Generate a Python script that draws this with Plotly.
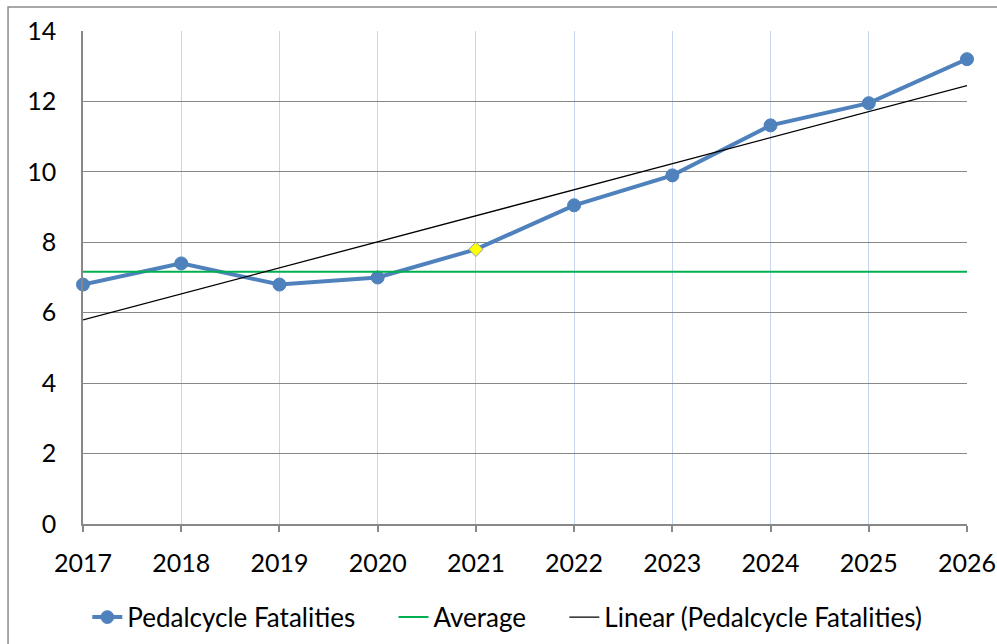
import numpy as np
import plotly.graph_objects as go

# Annual pedalcycle fatalities (2017-2021 observed, 2022-2026 projected)
years = [2017, 2018, 2019, 2020, 2021, 2022, 2023, 2024, 2025, 2026]
fatalities = [6.8, 7.4, 6.8, 7.0, 7.8, 9.05, 9.9, 11.32, 11.95, 13.2]
observed_years = [2017, 2018, 2019, 2020, 2021]
highlight_year = 2021

# Average of the observed years, drawn as a flat reference line
observed_vals = [v for y, v in zip(years, fatalities) if y in observed_years]
average = float(np.mean(observed_vals))

# Least-squares linear trend across the whole series
slope, intercept = np.polyfit(years, fatalities, 1)
trend = [slope * y + intercept for y in years]

FONT = "Lato"
BLUE = "#4f81bd"
GREEN = "#00b050"
GRID = "#888888"
VGRID = "#c6d6ec"
PAD = "\u00a0" * 5  # extra room between legend entries

marker_colors = ["#ffff00" if y == highlight_year else BLUE for y in years]
marker_symbols = ["diamond" if y == highlight_year else "circle" for y in years]
marker_sizes = [11 if y == highlight_year else 13 for y in years]
marker_lines = ["#8a9bb0" if y == highlight_year else BLUE for y in years]

fig = go.Figure()

fig.add_trace(go.Scatter(
    x=years, y=fatalities, name="Pedalcycle Fatalities" + PAD,
    mode="lines+markers",
    line=dict(color=BLUE, width=4),
    marker=dict(color=marker_colors, symbol=marker_symbols, size=marker_sizes,
                opacity=1, line=dict(color=marker_lines, width=1)),
    cliponaxis=False,
))
fig.add_trace(go.Scatter(
    x=[years[0], years[-1]], y=[average, average], name="Average" + PAD,
    mode="lines", line=dict(color=GREEN, width=2),
))
fig.add_trace(go.Scatter(
    x=years, y=trend, name="Linear (Pedalcycle Fatalities)",
    mode="lines", line=dict(color="black", width=1.3),
))

# Outer chart border
fig.add_shape(type="rect", xref="paper", yref="paper",
              x0=-0.0848, x1=1.2, y0=-0.4, y1=1.0487,
              line=dict(color="#8c8c8c", width=1.5), fillcolor="rgba(0,0,0,0)",
              layer="below")

fig.update_layout(
    width=997, height=644,
    margin=dict(l=83, r=30, t=31, b=120, autoexpand=False),
    paper_bgcolor="white", plot_bgcolor="white",
    font=dict(family=FONT, size=25, color="black"),
    showlegend=True,
    legend=dict(orientation="h", x=0.48, xanchor="center", y=-0.189, yanchor="middle",
                font=dict(size=26), itemwidth=30, tracegroupgap=0,
                bgcolor="rgba(0,0,0,0)"),
)
fig.update_xaxes(
    range=[2017, 2026], tickmode="array", tickvals=years,
    showgrid=True, gridcolor=VGRID, gridwidth=1,
    showline=True, linecolor=GRID, linewidth=1.5,
    ticks="outside", ticklen=6, tickcolor=GRID, tickwidth=1.5,
    ticklabelstandoff=10, zeroline=False,
)
fig.update_yaxes(
    range=[0, 14], dtick=2,
    showgrid=True, gridcolor=GRID, gridwidth=1.2,
    showline=True, linecolor=GRID, linewidth=1.5,
    ticks="", ticklabelstandoff=20, zeroline=False,
)

fig.write_html("out.html")
